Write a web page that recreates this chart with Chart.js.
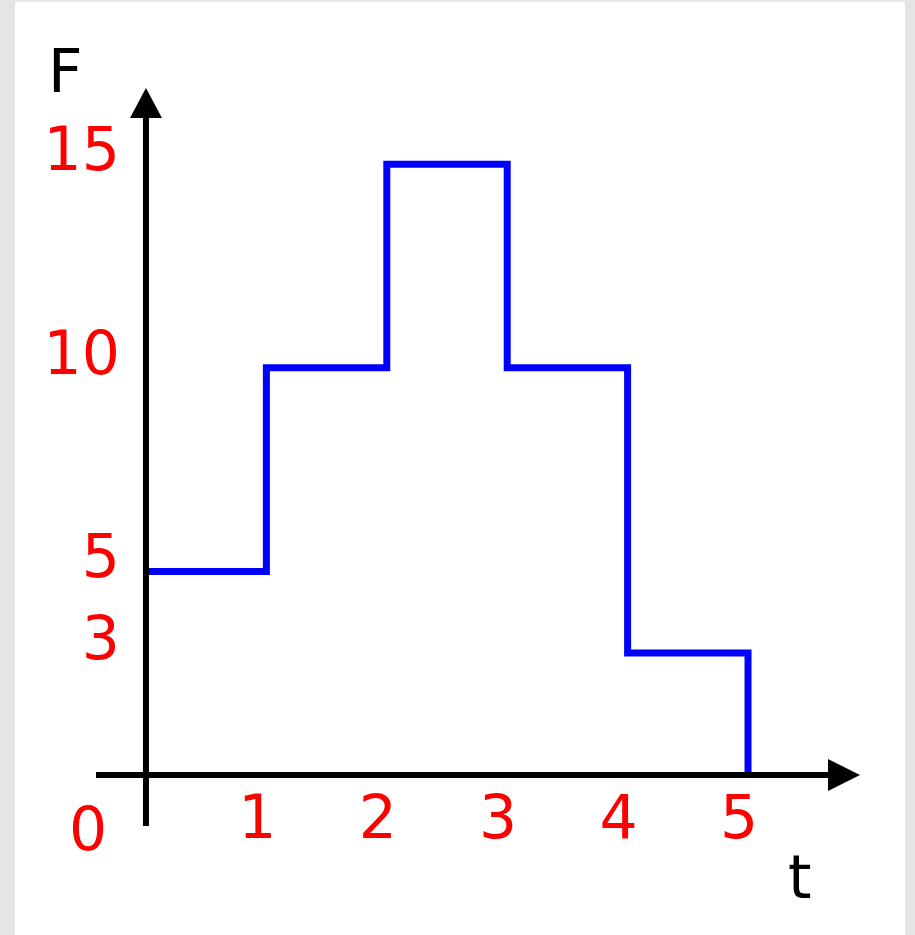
<!DOCTYPE html>
<html>
<head>
<meta charset="utf-8">
<script src="https://cdn.jsdelivr.net/npm/chart.js@4"></script>
<style>
  html, body { margin: 0; padding: 0; background: #e5e5e5; }
  #wrap { position: absolute; left: 0; top: 0; width: 915px; height: 935px; }
</style>
</head>
<body>
<div id="wrap"><canvas id="forceChart"></canvas></div>
<script>
    // step values of F over t
    const tValues = [0, 1, 2, 3, 4, 5];
    const fValues = [5, 10, 15, 10, 3, 0];
    const xTickLabels = [1, 2, 3, 4, 5];
    const yTickLabels = [3, 5, 10, 15];

    const labelFont = '60px "DejaVu Sans", sans-serif';

    // background panel + axes with arrows + red tick labels
    const axesPlugin = {
        id: 'axesPlugin',
        beforeDraw(chart) {
            const ctx = chart.ctx;
            ctx.save();
            ctx.fillStyle = '#e5e5e5';
            ctx.fillRect(0, 0, chart.width, chart.height);
            ctx.fillStyle = '#ffffff';
            ctx.fillRect(15, 2, 890, 933);
            ctx.restore();
        },
        afterDatasetsDraw(chart) {
            const ctx = chart.ctx;
            const area = chart.chartArea;
            const xs = chart.scales.x;
            const ys = chart.scales.y;
            const x0 = xs.getPixelForValue(0);
            const y0 = ys.getPixelForValue(0);

            ctx.save();
            ctx.strokeStyle = '#000';
            ctx.fillStyle = '#000';
            ctx.lineWidth = 6;
            ctx.lineCap = 'butt';

            // horizontal axis
            ctx.beginPath();
            ctx.moveTo(area.left, y0);
            ctx.lineTo(area.right - 30, y0);
            ctx.stroke();
            ctx.beginPath();
            ctx.moveTo(area.right, y0);
            ctx.lineTo(area.right - 32, y0 - 16);
            ctx.lineTo(area.right - 32, y0 + 16);
            ctx.closePath();
            ctx.fill();

            // vertical axis
            ctx.beginPath();
            ctx.moveTo(x0, area.bottom);
            ctx.lineTo(x0, area.top + 28);
            ctx.stroke();
            ctx.beginPath();
            ctx.moveTo(x0, area.top);
            ctx.lineTo(x0 - 16, area.top + 30);
            ctx.lineTo(x0 + 16, area.top + 30);
            ctx.closePath();
            ctx.fill();

            // tick labels
            ctx.font = labelFont;
            ctx.fillStyle = '#ff0000';
            ctx.textBaseline = 'alphabetic';
            ctx.textAlign = 'center';
            xTickLabels.forEach(v => {
                ctx.fillText(String(v), xs.getPixelForValue(v) - 9, y0 + 63);
            });
            ctx.textAlign = 'right';
            yTickLabels.forEach(v => {
                ctx.fillText(String(v), x0 - 26, ys.getPixelForValue(v) + 6);
            });
            ctx.textAlign = 'center';
            ctx.fillText('0', x0 - 58, y0 + 75);

            // axis names
            ctx.fillStyle = '#000';
            ctx.textAlign = 'left';
            ctx.fillText('F', 48, 92);
            ctx.fillText('t', 788, 898);
            ctx.restore();
        }
    };

    const ctx = document.getElementById('forceChart').getContext('2d');
    new Chart(ctx, {
        type: 'line',
        data: {
            datasets: [{
                data: tValues.map((t, i) => ({ x: t, y: fValues[i] })),
                borderColor: '#0000ff',
                borderWidth: 7,
                stepped: 'before',
                pointRadius: 0,
                fill: false,
                borderCapStyle: 'butt',
                borderJoinStyle: 'miter'
            }]
        },
        options: {
            responsive: true,
            maintainAspectRatio: false,
            animation: false,
            events: [],
            layout: { padding: { left: 96, right: 55, top: 88, bottom: 109 } },
            plugins: { legend: { display: false }, tooltip: { enabled: false } },
            scales: {
                x: { type: 'linear', min: -0.415, max: 5.93, display: false },
                y: { type: 'linear', min: -1.25, max: 16.87, display: false }
            }
        },
        plugins: [axesPlugin]
    });
</script>
</body>
</html>
